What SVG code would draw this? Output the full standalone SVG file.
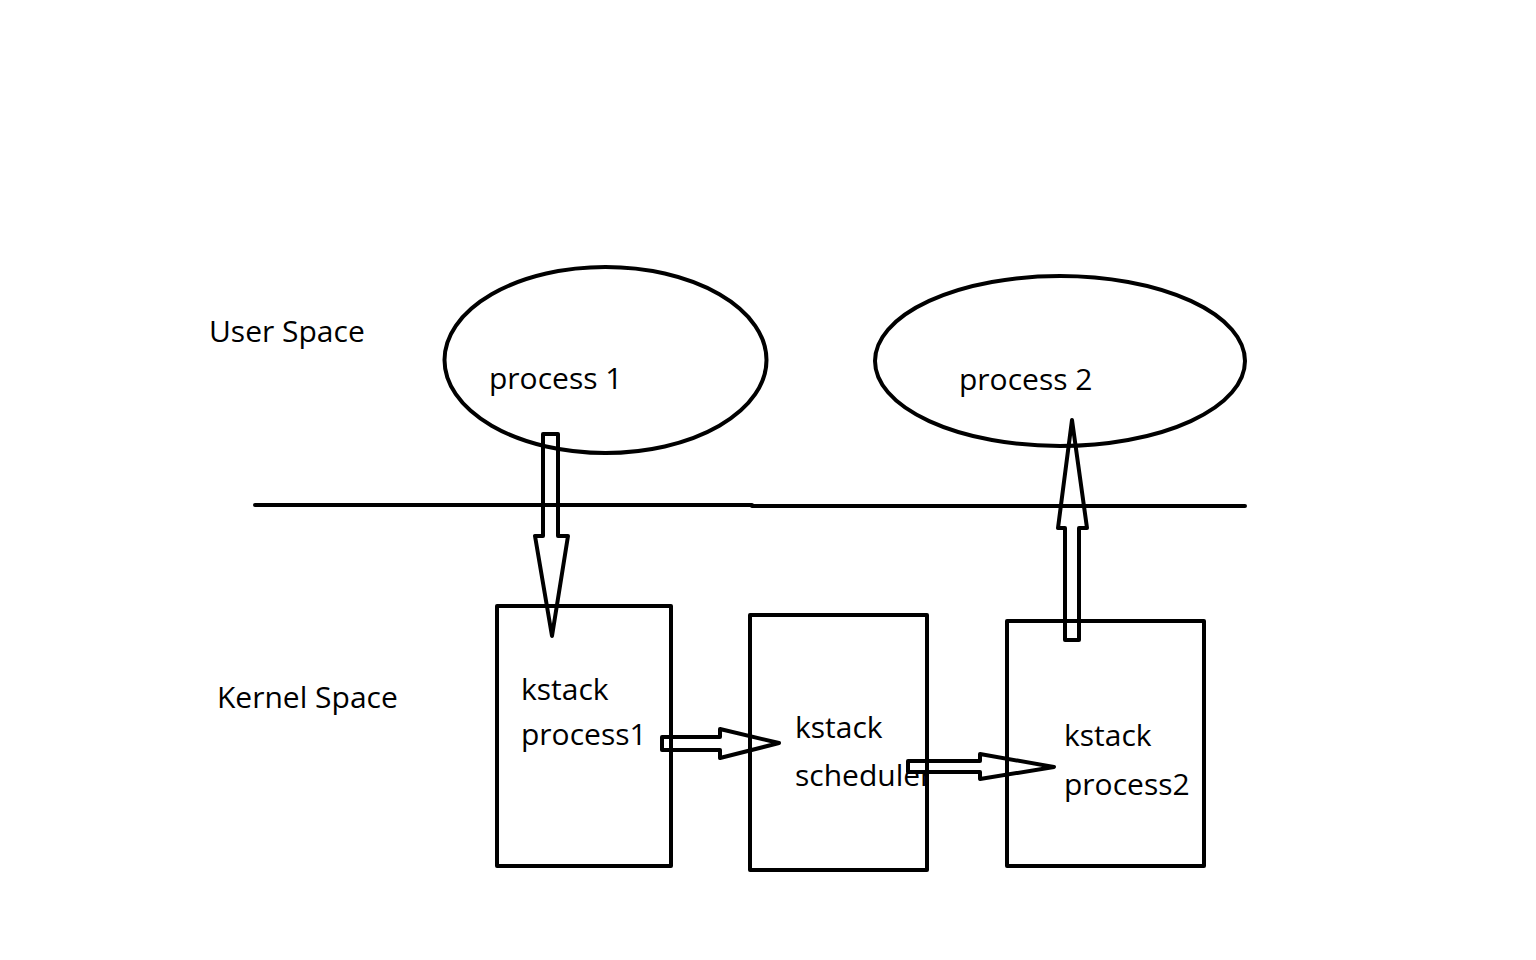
<svg xmlns="http://www.w3.org/2000/svg" width="1536" height="960" viewBox="0 0 1536 960">
<style>
.s{fill:none;stroke:#000;stroke-width:4;stroke-linejoin:round;stroke-linecap:round}
.a{fill:none;stroke:#000;stroke-width:4;stroke-linejoin:round}
text{font-family:"Open Sans","Noto Sans","Liberation Sans",sans-serif;font-size:30px;fill:#000}
</style>
<rect width="1536" height="960" fill="#fff"/>
<g id="labels">
<text x="209" y="342">User Space</text>
<text x="217" y="708">Kernel Space</text>
</g>
<g id="divider"><polyline class="s" points="255,505 752,505 752,506 1245,506"/></g>
<g id="process1"><ellipse class="s" cx="605.5" cy="360" rx="161" ry="93"/><text x="489" y="389">process 1</text></g>
<g id="process2"><ellipse class="s" cx="1060" cy="361" rx="185" ry="85"/><text x="959" y="390">process 2</text></g>
<g id="kstack1"><rect class="s" x="497" y="606" width="174" height="260"/><text x="521" y="700">kstack</text><text x="521" y="745">process1</text></g>
<g id="kstack2"><rect class="s" x="750" y="615" width="177" height="255"/><text x="795" y="738">kstack</text><text x="795" y="786">scheduler</text></g>
<g id="kstack3"><rect class="s" x="1007" y="621" width="197" height="245"/><text x="1064" y="746">kstack</text><text x="1064" y="795">process2</text></g>
<g id="connectors">
<polygon class="a" points="543,434 558,434 558,536 568,536 552,636 535,536 543,536"/>
<polygon class="a" points="1065,640 1079,640 1079,528 1087,528 1072,420 1058,528 1065,528"/>
<polygon class="a" points="662,737 720,737 720,729 779,743 720,758 720,750 662,750"/>
<polygon class="a" points="908,761 980,761 980,754 1054,767 980,779 980,772 908,772"/>
</g>
</svg>
